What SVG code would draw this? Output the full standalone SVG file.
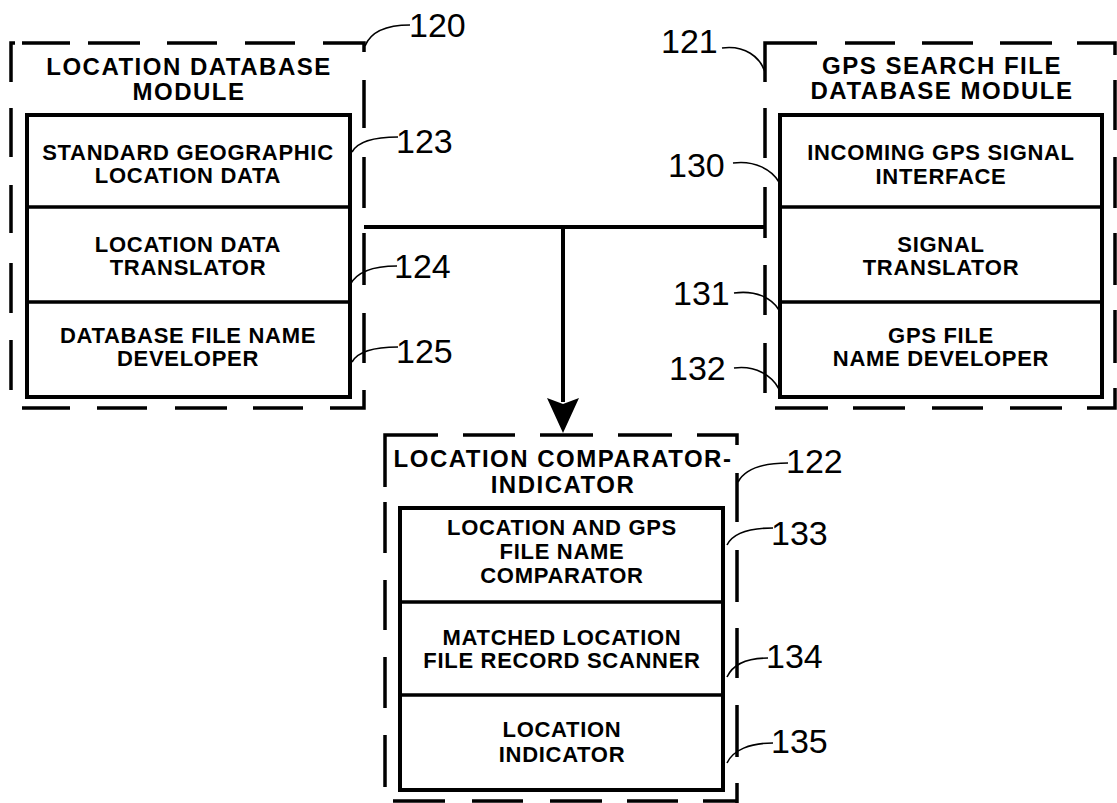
<svg xmlns="http://www.w3.org/2000/svg" width="1117" height="803" viewBox="0 0 1117 803">
<style>
.frame{fill:none;stroke:#000;stroke-width:3.5;stroke-linecap:butt}
.box{fill:#fff;stroke:#000;stroke-width:4}
.div{stroke:#000;stroke-width:3.5}
.lead{fill:none;stroke:#000;stroke-width:1.6}
.conn{fill:none;stroke:#000;stroke-width:4}
.t{font-family:"Liberation Sans",Arial,sans-serif;font-weight:bold;font-size:22px;letter-spacing:0.7px;text-anchor:middle;fill:#000}
.h{font-size:24px;letter-spacing:1.5px}
.n{font-family:"Liberation Sans",Arial,sans-serif;font-size:34px;fill:#000}
</style>
<rect width="1117" height="803" fill="#fff"/>

<g id="connectors">
<path class="conn" d="M364 227 H765"/>
<path class="conn" d="M563 227 V402"/>
<polygon points="547,398 563,404 579,398 563,433" fill="#000"/>
</g>

<g id="module-120">
<path class="frame" d="M15 43 H11 V82 M22 43 H70 M88 43 H140 M167 43 H217 M245 43 H295 M323 43 H364 V52 M11 108 V157 M11 185 V233 M11 263 V313 M11 340 V390 M364 80 V128 M364 157 V208 M364 233 V285 M364 313 V363 M364 390 V408 H330 M22 408 H70 M97 408 H147 M175 408 H227 M253 408 H303"/>
<text class="t h"><tspan x="189" y="75">LOCATION DATABASE</tspan><tspan x="189" y="100">MODULE</tspan></text>
<rect class="box" x="27" y="115" width="323" height="282"/>
<path class="div" d="M27 207 H350 M27 302 H350"/>
<g id="node-123"><text class="t"><tspan x="188" y="160">STANDARD GEOGRAPHIC</tspan><tspan x="188" y="183">LOCATION DATA</tspan></text></g>
<g id="node-124"><text class="t"><tspan x="188" y="252">LOCATION DATA</tspan><tspan x="188" y="275">TRANSLATOR</tspan></text></g>
<g id="node-125"><text class="t"><tspan x="188" y="343">DATABASE FILE NAME</tspan><tspan x="188" y="366">DEVELOPER</tspan></text></g>
</g>

<g id="module-121">
<path class="frame" d="M765 82 V43 H817 M845 43 H895 M922 43 H973 M1000 43 H1052 M1077 43 H1115 V55 M765 108 V158 M765 187 V238 M765 265 V315 M765 343 V393 M1115 80 V130 M1115 157 V208 M1115 233 V285 M1115 310 V363 M1115 388 V408 H1087 M775 408 H828 M853 408 H905 M932 408 H983 M1010 408 H1062"/>
<text class="t h"><tspan x="942" y="74">GPS SEARCH FILE</tspan><tspan x="942" y="99">DATABASE MODULE</tspan></text>
<rect class="box" x="780" y="115" width="322" height="282"/>
<path class="div" d="M780 207 H1102 M780 302 H1102"/>
<g id="node-130"><text class="t"><tspan x="941" y="160">INCOMING GPS SIGNAL</tspan><tspan x="941" y="184">INTERFACE</tspan></text></g>
<g id="node-131"><text class="t"><tspan x="941" y="252">SIGNAL</tspan><tspan x="941" y="275">TRANSLATOR</tspan></text></g>
<g id="node-132"><text class="t"><tspan x="941" y="343">GPS FILE</tspan><tspan x="941" y="366">NAME DEVELOPER</tspan></text></g>
</g>

<g id="module-122">
<path class="frame" d="M385 487 V435 H438 M463 435 H515 M540 435 H593 M618 435 H672 M697 435 H737 V445 M385 502 V553 M385 580 V630 M385 657 V708 M385 735 V787 M737 473 V522 M737 550 V602 M737 628 V678 M737 705 V757 M737 783 V803 M393 801 H445 M472 801 H523 M550 801 H602 M627 801 H678 M703 801 H737"/>
<text class="t h"><tspan x="563" y="467">LOCATION COMPARATOR-</tspan><tspan x="563" y="493">INDICATOR</tspan></text>
<rect class="box" x="400" y="508" width="323" height="282"/>
<path class="div" d="M400 602 H723 M400 695 H723"/>
<g id="node-133"><text class="t"><tspan x="562" y="535">LOCATION AND GPS</tspan><tspan x="562" y="559">FILE NAME</tspan><tspan x="562" y="583">COMPARATOR</tspan></text></g>
<g id="node-134"><text class="t"><tspan x="562" y="645">MATCHED LOCATION</tspan><tspan x="562" y="668">FILE RECORD SCANNER</tspan></text></g>
<g id="node-135"><text class="t"><tspan x="562" y="737">LOCATION</tspan><tspan x="562" y="762">INDICATOR</tspan></text></g>
</g>

<g id="reference-labels">
<path class="lead" d="M365 46 C371 31 388 25 410 25"/>
<text class="n" x="409" y="37">120</text>
<path class="lead" d="M352 152 C358 141 374 137 398 137"/>
<text class="n" x="396" y="153">123</text>
<path class="lead" d="M350 285 C356 273 372 266 397 266"/>
<text class="n" x="394" y="278">124</text>
<path class="lead" d="M352 362 C358 351 374 347 398 347"/>
<text class="n" x="396" y="363">125</text>
<path class="lead" d="M722 48 C745 45 760 57 765 72"/>
<text class="n" x="661" y="53">121</text>
<path class="lead" d="M733 163 C755 160 772 170 779 182"/>
<text class="n" x="668" y="177">130</text>
<path class="lead" d="M734 293 C756 290 772 298 779 310"/>
<text class="n" x="673" y="305">131</text>
<path class="lead" d="M734 368 C756 365 772 376 779 389"/>
<text class="n" x="669" y="380">132</text>
<path class="lead" d="M738 482 C745 469 764 463 788 463"/>
<text class="n" x="786" y="473">122</text>
<path class="lead" d="M727 545 C733 533 750 528 773 528"/>
<text class="n" x="771" y="545">133</text>
<path class="lead" d="M727 677 C733 664 746 658 768 658"/>
<text class="n" x="766" y="668">134</text>
<path class="lead" d="M727 763 C733 750 750 743 773 743"/>
<text class="n" x="771" y="753">135</text>
</g>
</svg>
